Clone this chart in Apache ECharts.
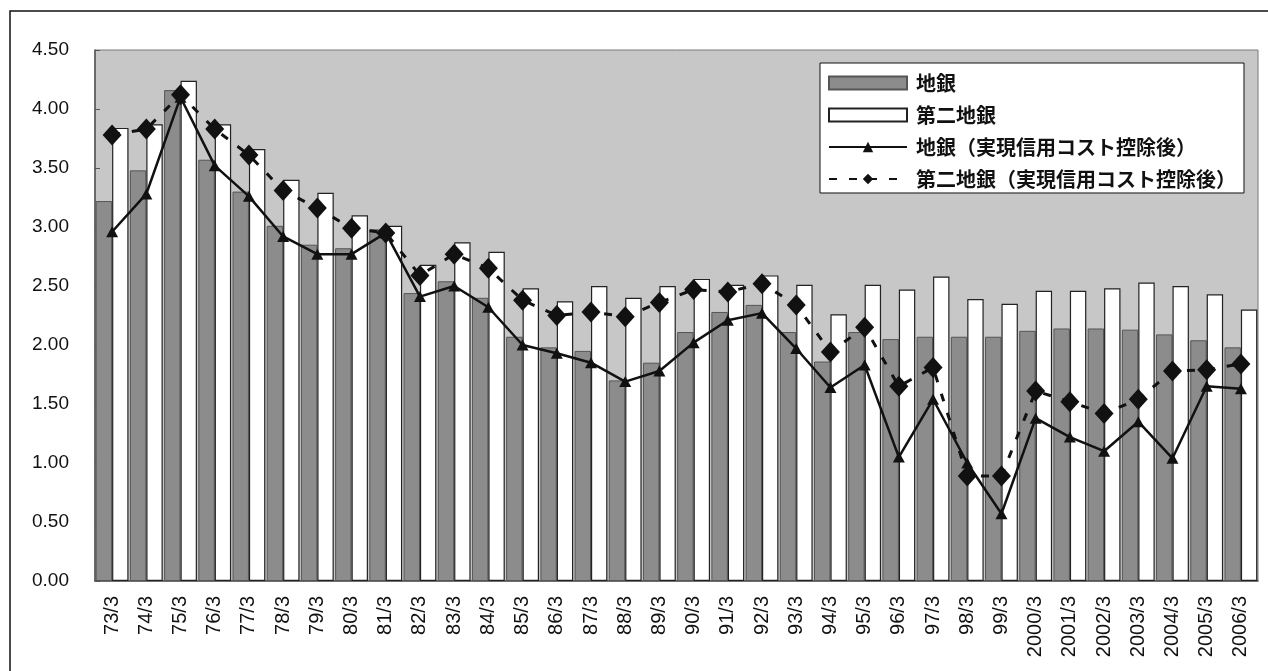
<!DOCTYPE html>
<html>
<head>
<meta charset="utf-8">
<script src="https://cdn.jsdelivr.net/npm/echarts@6/dist/echarts.min.js"></script>
<style>
  html, body { margin: 0; padding: 0; background: #fff; }
  #main { width: 1268px; height: 671px; }
</style>
</head>
<body>
<div id="main"></div>
<script>
// 年度 (3月末)
const categories = [
  "73/3", "74/3", "75/3", "76/3", "77/3", "78/3", "79/3", "80/3", "81/3", "82/3",
  "83/3", "84/3", "85/3", "86/3", "87/3", "88/3", "89/3", "90/3", "91/3", "92/3",
  "93/3", "94/3", "95/3", "96/3", "97/3", "98/3", "99/3", "2000/3", "2001/3",
  "2002/3", "2003/3", "2004/3", "2005/3", "2006/3"
];
const yTicks = [0, 0.5, 1, 1.5, 2, 2.5, 3, 3.5, 4, 4.5];

// 地銀
const chigin = [
  3.22, 3.48, 4.16, 3.57, 3.30, 3.01, 2.85, 2.82, 2.98, 2.44,
  2.54, 2.40, 2.07, 1.98, 1.95, 1.70, 1.85, 2.11, 2.28, 2.34,
  2.11, 1.86, 2.11, 2.05, 2.07, 2.07, 2.07, 2.12, 2.14, 2.14,
  2.13, 2.09, 2.04, 1.98
];
// 第二地銀
const daini = [
  3.84, 3.87, 4.24, 3.87, 3.66, 3.40, 3.29, 3.10, 3.01, 2.68,
  2.87, 2.79, 2.48, 2.37, 2.50, 2.40, 2.50, 2.56, 2.51, 2.59,
  2.51, 2.26, 2.51, 2.47, 2.58, 2.39, 2.35, 2.46, 2.46, 2.48,
  2.53, 2.50, 2.43, 2.30
];
// 地銀(実現信用コスト控除後)
const chiginNet = [
  2.96, 3.28, 4.10, 3.52, 3.26, 2.92, 2.77, 2.77, 2.95, 2.41,
  2.50, 2.32, 2.00, 1.93, 1.85, 1.69, 1.78, 2.02, 2.21, 2.27,
  1.97, 1.64, 1.83, 1.05, 1.54, 1.00, 0.57, 1.38, 1.22, 1.10,
  1.35, 1.04, 1.65, 1.63
];
// 第二地銀(実現信用コスト控除後)
const dainiNet = [
  3.78, 3.83, 4.12, 3.83, 3.61, 3.31, 3.16, 2.99, 2.95, 2.59,
  2.77, 2.65, 2.38, 2.25, 2.28, 2.24, 2.36, 2.47, 2.45, 2.52,
  2.34, 1.94, 2.15, 1.65, 1.81, 0.89, 0.89, 1.61, 1.52, 1.42,
  1.54, 1.78, 1.79, 1.84
];

const chart = echarts.init(document.getElementById("main"));
const numFont = "'Liberation Sans', Arial, sans-serif";
const jpFont = "'Noto Sans CJK JP', sans-serif";

const option = {
  animation: false,
  backgroundColor: "#fff",
  graphic: [
    {
      type: "rect",
      shape: { x: 10, y: 11, width: 1270, height: 670 },
      style: { fill: "none", stroke: "#111", lineWidth: 1.5 },
      silent: true
    }
  ],
  grid: {
    left: 95,
    right: 10,
    top: 50,
    bottom: 90,
    show: true,
    backgroundColor: "#c7c7c7",
    borderColor: "#7a7a7a",
    borderWidth: 1
  },
  legend: {
    orient: "vertical",
    left: 820,
    top: 63,
    padding: [10, 8, 4, 8],
    itemWidth: 78,
    itemHeight: 13,
    itemGap: 12,
    backgroundColor: "#fff",
    borderColor: "#111",
    borderWidth: 1,
    textStyle: {
      fontFamily: jpFont,
      fontSize: 20,
      fontWeight: "bold",
      color: "#111",
      padding: [0, 0, 0, 4]
    },
    data: [
      { name: "地銀", icon: "rect" },
      { name: "第二地銀", icon: "rect" },
      "地銀（実現信用コスト控除後）",
      "第二地銀（実現信用コスト控除後）"
    ]
  },
  xAxis: {
    type: "category",
    data: categories,
    axisLine: { lineStyle: { color: "#555", width: 1.5 } },
    axisTick: { show: false },
    axisLabel: {
      interval: 0,
      rotate: 90,
      margin: 15,
      fontFamily: numFont,
      fontSize: 20,
      color: "#111"
    }
  },
  yAxis: {
    type: "value",
    min: 0,
    max: 4.5,
    interval: 0.5,
    splitLine: { show: false },
    axisLine: { show: true, lineStyle: { color: "#555", width: 1.5 } },
    axisTick: { show: true, inside: true, length: 5, lineStyle: { color: "#555" } },
    axisLabel: {
      margin: 26,
      fontFamily: numFont,
      fontSize: 19,
      color: "#111",
      formatter: v => (yTicks.indexOf(v) >= 0 ? v.toFixed(2) : "")
    }
  },
  series: [
    {
      name: "地銀",
      type: "bar",
      data: chigin,
      barGap: "0%",
      barCategoryGap: "4%",
      itemStyle: { color: "#8c8c8c", borderColor: "#555", borderWidth: 1 }
    },
    {
      name: "第二地銀",
      type: "bar",
      data: daini,
      barGap: "0%",
      barCategoryGap: "4%",
      itemStyle: { color: "#fff", borderColor: "#222", borderWidth: 1.2 }
    },
    {
      name: "地銀（実現信用コスト控除後）",
      type: "line",
      data: chiginNet,
      symbol: "triangle",
      symbolSize: [12, 11],
      lineStyle: { color: "#111", width: 2.5 },
      itemStyle: { color: "#111" },
      z: 3
    },
    {
      name: "第二地銀（実現信用コスト控除後）",
      type: "line",
      data: dainiNet,
      symbol: "diamond",
      symbolSize: [19, 21],
      lineStyle: { color: "#111", width: 3, type: [8, 12] },
      itemStyle: { color: "#111" },
      z: 4
    }
  ]
};

chart.setOption(option);
</script>
</body>
</html>
